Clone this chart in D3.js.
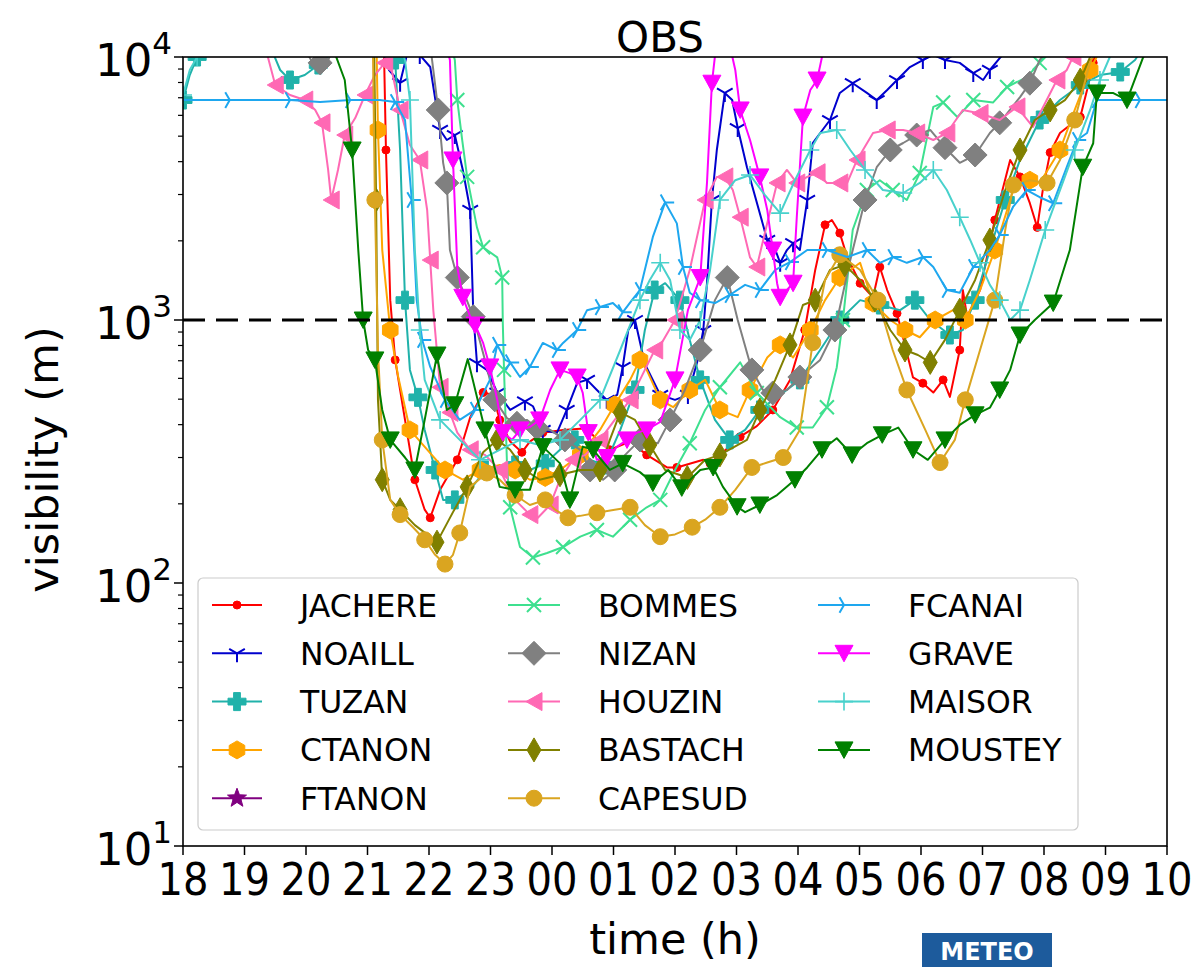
<!DOCTYPE html>
<html>
<head>
<meta charset="utf-8">
<script src="https://cdn.jsdelivr.net/npm/d3@7"></script>
<style>
  html, body { margin: 0; padding: 0; background: #fff; }
  svg { display: block; font-family: "DejaVu Sans", "Liberation Sans", sans-serif; }
</style>
</head>
<body>
<svg id="chart" width="1199" height="967"></svg>
<script>
// Observed visibility per station: [hour, visibility in m]; hours run past 24 into the next morning.
const JACHERE = [[21.25,11600],[21.27,10000],[21.30,4430],[21.37,1190],[21.45,705],[21.61,417],[21.77,247],[21.93,190],[22.02,177],[22.18,226],[22.46,294],[22.67,427],[22.88,530],[23.04,519],[23.15,417],[23.32,345],[23.51,314],[23.64,345],[23.85,373],[24.18,382],[24.57,388],[24.73,350],[24.94,321],[25.27,345],[25.54,307],[25.87,275],[26.03,275],[26.46,294],[26.57,285],[26.78,314],[27.06,360],[27.33,395],[27.59,455],[27.87,592],[28.11,916],[28.28,1550],[28.44,2300],[28.55,2400],[28.68,2140],[28.80,1735],[29.01,1380],[29.22,1220],[29.33,1590],[29.45,1300],[29.61,1060],[29.87,605],[30.03,575],[30.20,530],[30.36,592],[30.47,510],[30.63,769],[30.68,1300],[30.75,1030],[30.96,1300],[31.20,2400],[31.45,4060],[31.61,3500],[31.77,2780],[31.89,2250],[31.98,3120],[32.10,4330],[32.26,5140],[32.59,5910],[32.70,7490],[32.80,9500],[32.88,11100]];
const NOAILL = [[21.20,11600],[21.35,8925],[21.53,7980],[21.64,10180],[21.85,10180],[22.02,9160],[22.18,5280],[22.29,4835],[22.42,5050],[22.55,3720],[22.67,2620],[22.72,1060],[22.78,685],[22.94,646],[23.11,530],[23.32,455],[23.56,490],[23.69,470],[23.85,382],[24.08,372],[24.24,455],[24.41,577],[24.57,592],[24.73,542],[24.89,497],[25.06,519],[25.15,663],[25.24,916],[25.35,1000],[25.51,680],[25.76,519],[26.00,497],[26.21,519],[26.37,705],[26.46,916],[26.52,1380],[26.60,2860],[26.68,4430],[26.81,7300],[26.93,6860],[27.02,5370],[27.17,3810],[27.50,2015],[27.59,1960],[27.71,1650],[27.82,1845],[27.92,1960],[28.03,1845],[28.15,2860],[28.24,4710],[28.52,5760],[28.68,7300],[28.89,7950],[29.12,7300],[29.28,6860],[29.45,7490],[29.61,8175],[29.82,9160],[30.03,9740],[30.20,10180],[30.39,9740],[30.63,9500],[30.85,8690],[31.01,8175],[31.12,8925],[31.28,9910],[31.50,11100]];
const TUZAN = [[18.00,6860],[18.11,8540],[18.23,10000],[18.36,11100],[19.41,11100],[19.58,8925],[19.74,8175],[19.98,8540],[20.20,9325],[20.39,10180],[20.55,11100],[21.37,11100],[21.45,9740],[21.53,4430],[21.61,1190],[21.69,646],[21.82,508],[21.93,382],[22.10,269],[22.23,207],[22.42,207],[22.67,226],[22.91,269],[23.15,269],[23.40,281],[23.64,269],[23.89,285],[24.13,321],[24.37,350],[24.62,294],[24.86,281],[25.11,382],[25.35,542],[25.51,916],[25.67,1300],[25.84,1380],[26.08,1190],[26.24,840],[26.41,592],[26.65,417],[26.89,350],[27.14,382],[27.38,455],[27.71,519],[28.03,592],[28.36,769],[28.68,1000],[29.01,1190],[29.33,1140],[29.66,1090],[29.90,1190],[30.15,1000],[30.47,877],[30.68,916],[30.88,1190],[31.12,1845],[31.37,2860],[31.61,4060],[31.93,5760],[32.26,6860],[32.59,7825],[32.91,8540],[33.24,8770],[33.48,9740],[33.64,11100]];
const CTANON = [[21.14,11600],[21.15,10000],[21.17,5280],[21.24,1845],[21.37,916],[21.50,607],[21.69,382],[22.02,312],[22.26,269],[22.55,247],[22.83,269],[23.15,281],[23.40,269],[23.64,247],[23.89,252],[24.13,269],[24.46,307],[24.78,382],[25.02,476],[25.27,592],[25.43,705],[25.54,646],[25.76,497],[25.97,466],[26.24,542],[26.49,592],[26.73,455],[27.02,427],[27.22,542],[27.50,720],[27.71,804],[27.92,720],[28.20,916],[28.44,1190],[28.68,1450],[29.01,1650],[29.22,1160],[29.50,1000],[29.74,916],[29.98,860],[30.23,1000],[30.52,1090],[30.72,1000],[30.96,1300],[31.20,1845],[31.50,3120],[31.77,3400],[31.93,3320],[32.26,4430],[32.50,6290],[32.75,8925],[32.91,10600]];
const FTANON = [];
const BOMMES = [[22.34,11600],[22.42,9740],[22.46,6860],[22.54,4835],[22.62,3500],[22.78,2250],[22.88,1890],[23.11,1730],[23.19,1450],[23.20,975],[23.22,646],[23.27,275],[23.32,194],[23.48,137],[23.69,125],[23.92,130],[24.18,137],[24.46,150],[24.73,159],[24.99,150],[25.27,174],[25.54,194],[25.76,207],[26.00,269],[26.24,340],[26.49,455],[26.73,555],[27.06,690],[27.33,528],[27.71,427],[27.98,390],[28.24,390],[28.47,466],[28.63,660],[28.73,1000],[28.89,2200],[29.12,3120],[29.33,3400],[29.54,3120],[29.77,2860],[29.98,3620],[30.20,6460],[30.36,6710],[30.59,5910],[30.85,6860],[31.17,6710],[31.40,7690],[31.72,8390],[31.93,9500],[32.10,11100]];
const NIZAN = [[19.90,11600],[20.10,9570],[20.23,9500],[20.36,9740],[20.47,11100],[22.02,11100],[22.15,6290],[22.23,3960],[22.29,3320],[22.34,1845],[22.46,1450],[22.55,1300],[22.72,1030],[22.91,705],[23.07,497],[23.27,423],[23.43,405],[23.59,417],[23.76,388],[23.97,382],[24.21,350],[24.46,321],[24.62,269],[24.83,247],[25.02,269],[25.19,307],[25.43,350],[25.72,340],[25.92,417],[26.16,542],[26.41,769],[26.65,1190],[26.85,1450],[27.02,1000],[27.25,646],[27.43,542],[27.59,528],[27.82,542],[28.03,607],[28.36,705],[28.60,916],[28.85,1690],[29.09,2860],[29.28,3810],[29.50,4430],[29.71,4710],[29.93,5050],[30.15,5280],[30.39,4520],[30.63,3960],[30.88,4240],[31.12,5140],[31.28,5620],[31.61,7040],[31.77,7950],[31.93,9740],[32.10,11100]];
const HOUZIN = [[19.28,11100],[19.38,10000],[19.50,7825],[19.74,7170],[19.98,6860],[20.15,6290],[20.26,5620],[20.36,3720],[20.41,2860],[20.52,3720],[20.63,5050],[20.80,5860],[20.96,7170],[21.12,8540],[21.28,9500],[21.40,8770],[21.53,6290],[21.69,4630],[21.85,4060],[21.97,2620],[22.02,1690],[22.07,1090],[22.18,555],[22.23,528],[22.34,445],[22.46,373],[22.67,321],[22.91,307],[23.15,269],[23.40,207],[23.64,182],[23.77,177],[23.97,198],[24.13,247],[24.34,294],[24.54,307],[24.78,350],[25.02,417],[25.27,497],[25.51,646],[25.67,769],[25.80,830],[26.00,1000],[26.24,1550],[26.49,2860],[26.68,3500],[26.81,3500],[26.94,3120],[27.06,2460],[27.22,1730],[27.33,1590],[27.50,2340],[27.66,3320],[27.82,3720],[27.98,3320],[28.15,3500],[28.31,3630],[28.47,3320],[28.68,3320],[28.80,3320],[28.96,4060],[29.22,5140],[29.45,5280],[29.71,5280],[29.93,5140],[30.20,4835],[30.42,5140],[30.68,6290],[30.96,6100],[31.28,5760],[31.56,6460],[31.82,5420],[32.21,8175],[32.37,8925],[32.47,10000],[32.59,11100]];
const BASTACH = [[21.06,11600],[21.11,10000],[21.14,2860],[21.17,497],[21.24,247],[21.37,207],[21.53,190],[21.77,166],[22.13,143],[22.39,186],[22.62,232],[22.88,314],[23.11,350],[23.32,321],[23.56,269],[23.80,247],[24.13,258],[24.46,269],[24.78,269],[24.94,350],[25.11,445],[25.35,417],[25.59,335],[25.84,269],[26.20,252],[26.49,294],[26.73,307],[27.17,350],[27.38,455],[27.63,592],[27.87,804],[28.08,1140],[28.28,1190],[28.52,1550],[28.76,1620],[29.01,1420],[29.25,1190],[29.50,916],[29.74,769],[29.95,736],[30.15,690],[30.39,840],[30.63,1090],[30.88,1420],[31.12,2015],[31.37,3120],[31.61,4430],[31.85,5760],[32.10,6290],[32.34,6860],[32.59,8175],[32.75,10000],[32.83,11100]];
const CAPESUD = [[21.07,11600],[21.09,10000],[21.12,2860],[21.17,769],[21.24,350],[21.37,207],[21.53,182],[21.74,163],[21.93,146],[22.10,128],[22.26,118],[22.39,128],[22.50,155],[22.67,232],[22.94,262],[23.15,247],[23.40,216],[23.64,198],[23.89,207],[24.05,190],[24.26,177],[24.46,180],[24.73,185],[25.02,190],[25.27,194],[25.51,166],[25.76,150],[26.00,153],[26.28,163],[26.49,174],[26.73,194],[26.98,226],[27.25,275],[27.50,287],[27.76,300],[28.03,382],[28.24,820],[28.44,1420],[28.68,1770],[29.01,1550],[29.30,1190],[29.54,769],[29.77,542],[30.07,382],[30.31,287],[30.55,350],[30.72,497],[30.96,769],[31.20,1190],[31.37,2200],[31.50,3260],[31.77,3400],[32.05,3320],[32.26,4060],[32.50,5760],[32.75,9570],[32.91,11100]];
const FCANAI = [[18.00,6860],[18.28,6860],[18.76,6860],[19.17,6860],[19.74,6860],[20.23,6740],[20.72,6860],[21.20,6860],[21.45,6740],[21.61,5760],[21.72,2860],[21.80,1190],[21.89,840],[22.02,663],[22.26,497],[22.50,417],[22.75,455],[22.99,592],[23.11,804],[23.24,705],[23.32,690],[23.48,607],[23.64,663],[23.85,818],[24.08,769],[24.18,818],[24.41,916],[24.57,1090],[24.78,1120],[24.99,1160],[25.15,1070],[25.30,1190],[25.43,1300],[25.64,2070],[25.84,2800],[26.03,2330],[26.13,1590],[26.24,1270],[26.41,1190],[26.65,1160],[26.89,1245],[27.14,1360],[27.38,1300],[27.63,1550],[27.87,1660],[28.15,1845],[28.47,1845],[28.80,1735],[29.12,1845],[29.33,1650],[29.54,1735],[29.77,1650],[30.03,1735],[30.20,1590],[30.42,1300],[30.63,1270],[30.85,1590],[31.12,1845],[31.28,2105],[31.50,2700],[31.72,3120],[31.93,2930],[32.15,2780],[32.37,3810],[32.54,4835],[32.70,5140],[32.86,6860],[33.12,6860],[33.56,6860],[34.00,6860]];
const GRAVE = [[22.26,11600],[22.34,9740],[22.39,4060],[22.46,1590],[22.55,1220],[22.67,1030],[22.75,957],[22.88,818],[22.99,663],[23.11,497],[23.20,373],[23.35,350],[23.48,382],[23.64,392],[23.80,417],[23.97,542],[24.13,646],[24.29,628],[24.41,607],[24.50,528],[24.59,373],[24.73,294],[24.89,300],[25.06,330],[25.22,350],[25.38,373],[25.54,382],[25.76,410],[26.00,592],[26.21,1090],[26.41,1450],[26.52,3320],[26.60,7950],[26.67,11100],[26.89,11100],[26.98,8925],[27.06,6290],[27.22,4835],[27.38,3500],[27.50,2620],[27.59,1845],[27.66,1380],[27.71,1220],[27.82,1300],[27.92,1380],[27.98,2460],[28.08,5910],[28.20,7490],[28.31,8175],[28.39,10000],[28.46,11600]];
const MAISOR = [[18.00,7170],[18.11,8925],[18.23,10000],[18.36,11100],[21.53,11100],[21.61,9740],[21.69,6860],[21.77,1845],[21.85,916],[21.93,592],[22.18,417],[22.50,350],[22.83,294],[23.15,321],[23.48,350],[23.80,335],[24.13,350],[24.46,417],[24.78,497],[25.11,769],[25.43,1190],[25.59,1420],[25.76,1650],[25.92,1420],[26.08,916],[26.24,840],[26.41,1000],[26.57,1550],[26.73,2860],[26.98,3400],[27.22,3560],[27.46,2990],[27.71,2550],[27.95,3400],[28.20,4430],[28.36,5140],[28.63,5280],[28.85,4430],[29.09,3720],[29.38,3120],[29.71,3040],[29.98,3320],[30.20,3720],[30.42,3120],[30.63,2460],[30.80,2015],[30.96,1650],[31.12,1360],[31.28,1190],[31.45,1000],[31.61,1090],[31.77,1420],[32.02,2200],[32.26,3120],[32.50,4430],[32.75,6290],[32.91,8175],[33.07,10000],[33.15,11100]];
const MOUSTEY = [[20.39,11600],[20.63,8175],[20.75,4430],[20.85,1845],[20.93,1000],[21.01,769],[21.12,705],[21.24,455],[21.37,350],[21.61,300],[21.77,269],[21.93,417],[22.13,736],[22.29,455],[22.42,476],[22.63,710],[22.91,382],[23.15,232],[23.40,226],[23.64,226],[23.85,330],[24.13,285],[24.29,207],[24.50,330],[24.67,321],[24.94,269],[25.15,285],[25.43,264],[25.64,240],[25.89,269],[26.11,230],[26.41,269],[26.62,275],[26.78,232],[27.01,195],[27.14,186],[27.38,198],[27.66,216],[27.95,247],[28.15,275],[28.39,321],[28.63,355],[28.88,307],[29.12,340],[29.37,366],[29.63,390],[29.87,321],[30.11,294],[30.39,350],[30.63,399],[30.88,436],[31.12,464],[31.28,542],[31.45,646],[31.61,877],[31.85,1000],[32.15,1160],[32.42,1845],[32.63,3810],[32.80,4700],[32.86,7300],[33.12,7300],[33.35,6860],[33.61,9950],[33.80,11600]];

const stationNames = ["JACHERE", "NOAILL", "TUZAN", "CTANON", "FTANON", "BOMMES", "NIZAN", "HOUZIN", "BASTACH", "CAPESUD", "FCANAI", "GRAVE", "MAISOR", "MOUSTEY"];
const stationData = [JACHERE, NOAILL, TUZAN, CTANON, FTANON, BOMMES, NIZAN, HOUZIN, BASTACH, CAPESUD, FCANAI, GRAVE, MAISOR, MOUSTEY];

const xTickHours = [18, 19, 20, 21, 22, 23, 24, 25, 26, 27, 28, 29, 30, 31, 32, 33, 34];
const xTickLabels = ["18", "19", "20", "21", "22", "23", "00", "01", "02", "03", "04", "05", "06", "07", "08", "09", "10"];
const yTickValues = [10, 100, 1000, 10000];
const yTickExponents = ["1", "2", "3", "4"];
const fogThreshold = 1000;

// ---- styling ----
const stationColors = ["#ff0000", "#0000cd", "#20b2aa", "#ffa500", "#800080", "#3ee08f", "#808080", "#ff69b4", "#808000", "#daa520", "#1ea7ef", "#ff00ff", "#48d1cc", "#008000"];
const stationMarkers = ["dot", "tri_down", "plus_filled", "hexagon", "star", "x", "diamond", "tri_left", "thin_diamond", "circle", "tri_right", "triangle_down", "plus", "triangle_down"];

const W = 1199, H = 967;
const plot = { left: 183, right: 1167, top: 57, bottom: 846 };

const svg = d3.select("#chart");

const x = d3.scaleLinear().domain([18, 34]).range([plot.left, plot.right]);
const y = d3.scaleLog().domain([10, 10000]).range([plot.bottom, plot.top]);

svg.append("rect").attr("width", W).attr("height", H).attr("fill", "#fff");

svg.append("defs").append("clipPath").attr("id", "plot-clip")
  .append("rect")
  .attr("x", plot.left).attr("y", plot.top)
  .attr("width", plot.right - plot.left).attr("height", plot.bottom - plot.top);

// ---- marker shapes (centred at 0,0) ----
function markerSpec(type) {
  const c = (r) => `M${r},0A${r},${r} 0 1,1 ${-r},0A${r},${r} 0 1,1 ${r},0Z`;
  switch (type) {
    case "dot": return { d: c(4), filled: true };
    case "circle": return { d: c(8), filled: true };
    case "tri_down": { const s = 9; return { d: `M0,0L0,${s}M0,0L${-0.87*s},${-0.5*s}M0,0L${0.87*s},${-0.5*s}`, filled: false, sw: 2 }; }
    case "tri_right": { const s = 9; return { d: `M0,0L${s},0M0,0L${-0.5*s},${-0.87*s}M0,0L${-0.5*s},${0.87*s}`, filled: false, sw: 2 }; }
    case "x": { const s = 7; return { d: `M${-s},${-s}L${s},${s}M${-s},${s}L${s},${-s}`, filled: false, sw: 2 }; }
    case "plus": { const s = 9; return { d: `M${-s},0L${s},0M0,${-s}L0,${s}`, filled: false, sw: 1.6 }; }
    case "plus_filled": {
      const s = 9, a = 3.4;
      return { d: `M${-a},${-s}L${a},${-s}L${a},${-a}L${s},${-a}L${s},${a}L${a},${a}L${a},${s}L${-a},${s}L${-a},${a}L${-s},${a}L${-s},${-a}L${-a},${-a}Z`, filled: true };
    }
    case "hexagon": {
      const s = 9;
      const pts = d3.range(6).map(k => { const t = -Math.PI / 2 + k * Math.PI / 3; return [s * Math.cos(t), s * Math.sin(t)]; });
      return { d: "M" + pts.map(p => p.join(",")).join("L") + "Z", filled: true };
    }
    case "star": {
      const R = 10, r = 4.2;
      const pts = d3.range(10).map(k => { const t = -Math.PI / 2 + k * Math.PI / 5; const rr = k % 2 ? r : R; return [rr * Math.cos(t), rr * Math.sin(t)]; });
      return { d: "M" + pts.map(p => p.join(",")).join("L") + "Z", filled: true };
    }
    case "diamond": { const s = 12; return { d: `M0,${-s}L${s},0L0,${s}L${-s},0Z`, filled: true }; }
    case "thin_diamond": { const s = 12, w = 7; return { d: `M0,${-s}L${w},0L0,${s}L${-w},0Z`, filled: true }; }
    case "tri_left": { const s = 10; return { d: `M${-0.8*s},0L${0.8*s},${-0.9*s}L${0.8*s},${0.9*s}Z`, filled: true }; }
    case "triangle_down": { const s = 10; return { d: `M${-0.9*s},${-0.8*s}L${0.9*s},${-0.8*s}L0,${0.85*s}Z`, filled: true }; }
  }
}

function drawMarker(g, type, color, cx, cy) {
  const m = markerSpec(type);
  const p = g.append("path").attr("d", m.d).attr("transform", `translate(${cx},${cy})`);
  if (m.filled) p.attr("fill", color).attr("stroke", color).attr("stroke-width", 1);
  else p.attr("fill", "none").attr("stroke", color).attr("stroke-width", m.sw).attr("stroke-linecap", "butt");
}

// ---- station series ----
const line = d3.line().x(d => x(d[0])).y(d => y(d[1]));
const seriesLayer = svg.append("g").attr("clip-path", "url(#plot-clip)");

stationData.forEach((data, i) => {
  if (!data.length) return;
  const g = seriesLayer.append("g");
  g.append("path").datum(data)
    .attr("d", line)
    .attr("fill", "none")
    .attr("stroke", stationColors[i])
    .attr("stroke-width", 2)
    .attr("stroke-linejoin", "round");
  data.forEach((d, k) => {
    if (k % 2 === 0) drawMarker(g, stationMarkers[i], stationColors[i], x(d[0]), y(d[1]));
  });
});

// ---- 1 km fog threshold ----
svg.append("line")
  .attr("x1", plot.left).attr("x2", plot.right)
  .attr("y1", y(fogThreshold)).attr("y2", y(fogThreshold))
  .attr("stroke", "#000").attr("stroke-width", 3.2)
  .attr("stroke-dasharray", "22,11");

// ---- axes ----
const axisG = svg.append("g").attr("stroke", "#000").attr("stroke-width", 1.5);

// x ticks and labels
xTickHours.forEach((h, i) => {
  axisG.append("line").attr("x1", x(h)).attr("x2", x(h)).attr("y1", plot.bottom).attr("y2", plot.bottom + 9);
  svg.append("text")
    .attr("x", x(h)).attr("y", 895)
    .attr("text-anchor", "middle")
    .attr("font-size", 45)
    .attr("textLength", 51).attr("lengthAdjust", "spacingAndGlyphs")
    .attr("fill", "#000")
    .text(xTickLabels[i]);
});

// y major/minor ticks
for (let e = 1; e <= 3; e++) {
  for (let m = 2; m <= 9; m++) {
    const v = m * Math.pow(10, e);
    axisG.append("line").attr("x1", plot.left - 5).attr("x2", plot.left).attr("y1", y(v)).attr("y2", y(v)).attr("stroke-width", 1.2);
  }
}
yTickValues.forEach((v, i) => {
  axisG.append("line").attr("x1", plot.left - 9).attr("x2", plot.left).attr("y1", y(v)).attr("y2", y(v));
  const t = svg.append("text")
    .attr("x", 172).attr("y", y(v) + 19)
    .attr("text-anchor", "end")
    .attr("font-size", 45)
    .attr("fill", "#000");
  t.append("tspan").text("10");
  t.append("tspan").attr("font-size", 31).attr("dy", -22).text(yTickExponents[i]);
});

// frame
svg.append("rect")
  .attr("x", plot.left).attr("y", plot.top)
  .attr("width", plot.right - plot.left).attr("height", plot.bottom - plot.top)
  .attr("fill", "none").attr("stroke", "#000").attr("stroke-width", 1.6);

// ---- titles ----
svg.append("text").attr("x", 660).attr("y", 52).attr("text-anchor", "middle")
  .attr("font-size", 42).attr("fill", "#000").text("OBS");
svg.append("text").attr("x", 675).attr("y", 954).attr("text-anchor", "middle")
  .attr("font-size", 43).attr("fill", "#000").text("time (h)");
svg.append("text")
  .attr("transform", `translate(58,${(plot.top + plot.bottom) / 2 + 8}) rotate(-90)`)
  .attr("text-anchor", "middle")
  .attr("font-size", 43).attr("fill", "#000").text("visibility (m)");

// ---- legend ----
const legend = svg.append("g");
legend.append("rect")
  .attr("x", 198).attr("y", 578).attr("width", 880).attr("height", 252)
  .attr("rx", 5).attr("fill", "#fff").attr("fill-opacity", 0.85)
  .attr("stroke", "#cccccc").attr("stroke-width", 1.2);

const legendCols = [{ x0: 212, x1: 262, tx: 300 }, { x0: 508, x1: 560, tx: 598 }, { x0: 818, x1: 870, tx: 908 }];
stationNames.forEach((name, i) => {
  const col = legendCols[Math.floor(i / 5)];
  const cy = 605 + (i % 5) * 48.3;
  const g = legend.append("g");
  g.append("line").attr("x1", col.x0).attr("x2", col.x1).attr("y1", cy).attr("y2", cy)
    .attr("stroke", stationColors[i]).attr("stroke-width", 2);
  drawMarker(g, stationMarkers[i], stationColors[i], (col.x0 + col.x1) / 2, cy);
  g.append("text").attr("x", col.tx).attr("y", cy + 11.5)
    .attr("font-size", 31.5).attr("fill", "#000").text(name);
});

// ---- logo strip at the bottom edge ----
svg.append("rect").attr("x", 922).attr("y", 933).attr("width", 130).attr("height", 34).attr("fill", "#1d5b9c");
svg.append("text").attr("x", 987).attr("y", 960).attr("text-anchor", "middle")
  .attr("font-size", 24).attr("font-weight", "bold").attr("fill", "#fff").text("METEO");
</script>
</body>
</html>
